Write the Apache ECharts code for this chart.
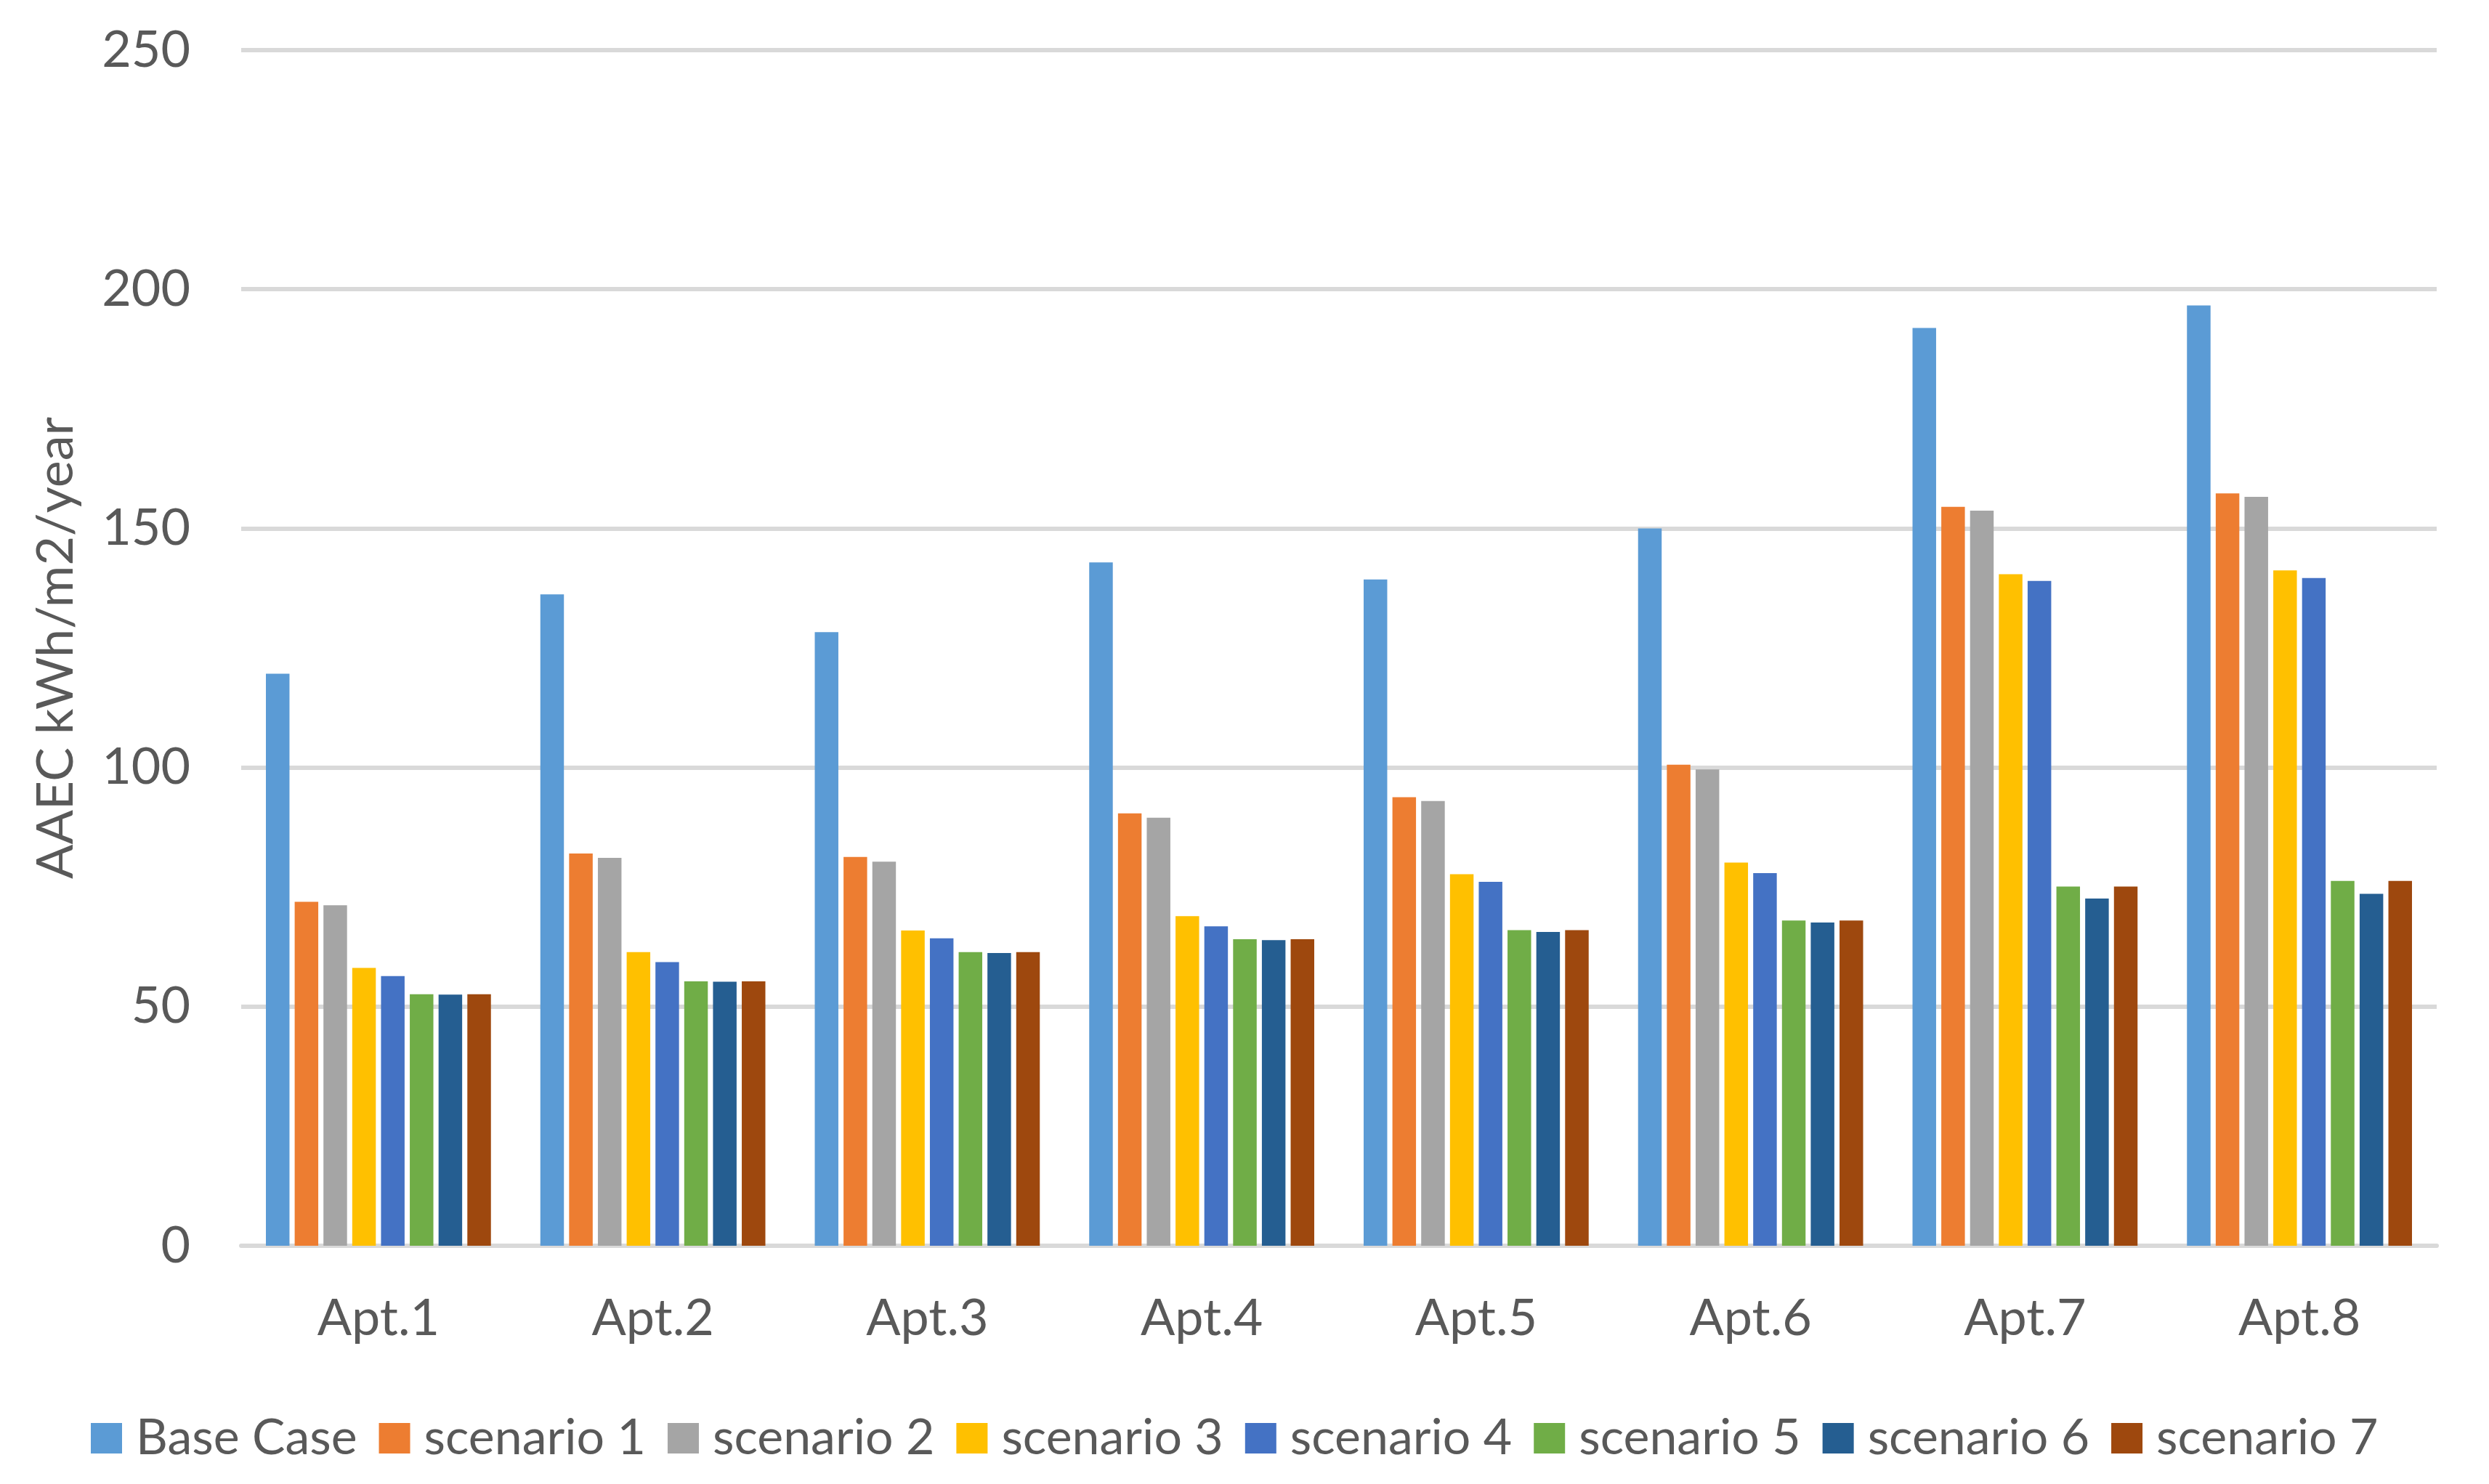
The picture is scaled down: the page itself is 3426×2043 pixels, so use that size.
<!DOCTYPE html>
<html>
<head>
<meta charset="utf-8">
<script src="https://cdn.jsdelivr.net/npm/echarts@6/dist/echarts.min.js"></script>
<style>
  html, body { margin: 0; padding: 0; background: #ffffff; }
  #chart { width: 3426px; height: 2043px; }
</style>
</head>
<body>
<div id="chart"></div>
<script>
const categories = ["Apt.1", "Apt.2", "Apt.3", "Apt.4", "Apt.5", "Apt.6", "Apt.7", "Apt.8"];
const seriesNames = ["Base Case", "scenario 1", "scenario 2", "scenario 3", "scenario 4", "scenario 5", "scenario 6", "scenario 7"];
const baseCase  = [119.6, 136.2, 128.3, 142.9, 139.3, 150.0, 191.9, 196.6];
const scenario1 = [71.9, 82.0, 81.3, 90.4, 93.8, 100.6, 154.5, 157.3];
const scenario2 = [71.2, 81.1, 80.3, 89.5, 93.0, 99.6, 153.7, 156.6];
const scenario3 = [58.1, 61.4, 65.9, 68.9, 77.7, 80.1, 140.4, 141.2];
const scenario4 = [56.4, 59.3, 64.3, 66.8, 76.1, 77.9, 139.0, 139.6];
const scenario5 = [52.6, 55.3, 61.4, 64.1, 66.0, 68.0, 75.1, 76.3];
const scenario6 = [52.5, 55.2, 61.2, 63.9, 65.6, 67.6, 72.6, 73.6];
const scenario7 = [52.6, 55.3, 61.4, 64.1, 66.0, 68.0, 75.1, 76.3];
const yTicks = [0, 50, 100, 150, 200, 250];
const colors = ["#5B9BD5", "#ED7D31", "#A5A5A5", "#FFC000", "#4472C4", "#70AD47", "#255E91", "#9E480E"];

const allValues = [baseCase, scenario1, scenario2, scenario3, scenario4, scenario5, scenario6, scenario7];
const FONT = "Lato, 'Noto Sans', sans-serif";
const TXT = "#595959";

const chart = echarts.init(document.getElementById('chart'), null, { renderer: 'canvas' });
chart.setOption({
  animation: false,
  backgroundColor: '#ffffff',
  color: colors,
  grid: { left: 332, right: 72, top: 69, bottom: 328, containLabel: false },
  legend: {
    data: seriesNames,
    left: 120,
    top: 1941,
    itemWidth: 43,
    itemHeight: 42,
    itemGap: 30,
    icon: 'rect',
    textStyle: { fontFamily: FONT, fontSize: 68, color: TXT, padding: [0, 0, 0, 14] }
  },
  xAxis: {
    type: 'category',
    data: categories,
    axisLine: { show: true, lineStyle: { color: '#D9D9D9', width: 6 } },
    axisTick: { show: false },
    axisLabel: { fontFamily: FONT, fontSize: 70, color: TXT, margin: 65 }
  },
  yAxis: {
    type: 'value',
    min: yTicks[0],
    max: yTicks[yTicks.length - 1],
    interval: yTicks[1] - yTicks[0],
    name: 'AAEC kWh/m2/year',
    nameLocation: 'middle',
    nameRotate: 90,
    nameGap: 220,
    nameTextStyle: { fontFamily: FONT, fontSize: 70, color: TXT },
    axisLine: { show: false },
    axisTick: { show: false },
    axisLabel: { fontFamily: FONT, fontSize: 70, color: TXT, margin: 70 },
    splitLine: { show: true, lineStyle: { color: '#D9D9D9', width: 6 } }
  },
  series: seriesNames.map((name, i) => ({
    name: name,
    type: 'bar',
    data: allValues[i],
    barGap: '22%',
    barCategoryGap: '18%',
    itemStyle: { color: colors[i] }
  }))
});
</script>
</body>
</html>
